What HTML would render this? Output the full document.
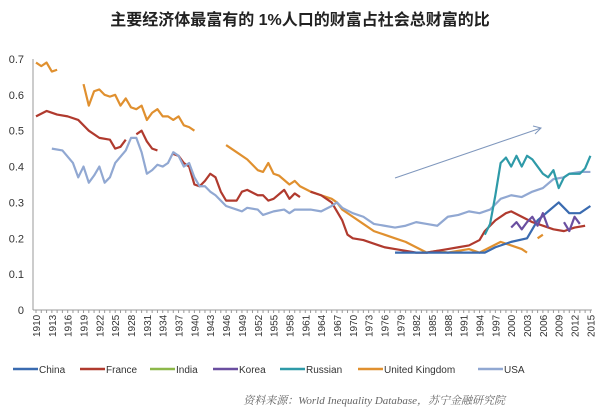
<!DOCTYPE html><html><head><meta charset="utf-8"><style>
body{margin:0;background:#fff;width:600px;height:415px;overflow:hidden;font-family:"Liberation Sans","Noto Sans CJK SC",sans-serif}
</style></head><body>
<svg id="s" width="600" height="415" xmlns="http://www.w3.org/2000/svg" font-family="Liberation Sans, Noto Sans CJK SC, sans-serif">
<text x="300" y="25" text-anchor="middle" font-size="16" font-weight="bold" fill="#222">主要经济体最富有的 1%人口的财富占社会总财富的比</text>
<g id="ax"></g><g id="ln" fill="none" stroke-width="2.2" stroke-linejoin="round"></g>
<line x1="395" y1="178" x2="541" y2="128" stroke="#7f97bd" stroke-width="1"/>
<path d="M533 126 L541 128 L535 134" stroke="#7f97bd" fill="none"/>
<g font-size="10" fill="#333" id="lg"></g>
<text x="505" y="404" text-anchor="end" font-size="11" font-style="italic" fill="#666" font-family="Liberation Serif, Noto Serif CJK SC, serif">资料来源：World Inequality Database，苏宁金融研究院</text>
</svg>
<script>
const X=y=>36+(y-1910)*5.28, Y=v=>310-v*358.6;
let ax='<line x1="33" y1="59" x2="33" y2="310" stroke="#999"/><line x1="33" y1="310" x2="592" y2="310" stroke="#999"/>';
for(let i=0;i<=7;i++){ax+=`<text x="24" y="${Y(i/10)+4}" text-anchor="end" font-size="11" fill="#333">${i?(i/10).toFixed(1):0}</text>`}
for(let y=1910;y<=2015;y++){ax+=`<line x1="${X(y)}" y1="310" x2="${X(y)}" y2="313" stroke="#999"/>`;
if((y-1910)%3==0)ax+=`<text transform="translate(${X(y)+4},337) rotate(-90)" font-size="10" fill="#333">${y}</text>`}
document.getElementById('ax').innerHTML=ax;
const S={
'#E0902F':[[[1910,.69],[1911,.68],[1912,.69],[1913,.665],[1914,.67]],[[1919,.63],[1920,.57],[1921,.61],[1922,.615],[1923,.6],[1924,.595],[1925,.6],[1926,.57],[1927,.59],[1928,.565],[1929,.56],[1930,.57],[1931,.53],[1932,.55],[1933,.56],[1934,.54],[1935,.54],[1936,.53],[1937,.54],[1938,.515],[1939,.51],[1940,.5]],[[1946,.46],[1948,.44],[1950,.42],[1952,.39],[1953,.385],[1954,.41],[1955,.38],[1956,.375],[1958,.35],[1959,.36],[1960,.345],[1962,.33],[1964,.32],[1966,.31],[1967,.3],[1968,.28],[1970,.26],[1972,.24],[1974,.22],[1976,.21],[1978,.2],[1980,.19],[1982,.175],[1984,.16],[1986,.165],[1988,.16],[1990,.165],[1992,.17],[1994,.16],[1996,.175],[1998,.19],[2000,.18],[2002,.17],[2003,.16]],[[2005,.2],[2006,.21]]],
'#B03A2E':[[[1910,.54],[1912,.555],[1914,.545],[1916,.54],[1918,.53],[1920,.5],[1922,.48],[1924,.475],[1925,.45],[1926,.455],[1927,.475]],[[1929,.49],[1930,.5],[1931,.47],[1932,.45],[1933,.445]],[[1936,.435],[1937,.43],[1938,.41],[1939,.4],[1940,.35],[1941,.345],[1942,.36],[1943,.38],[1944,.37],[1945,.33],[1946,.305],[1948,.305],[1949,.33],[1950,.335],[1952,.32],[1953,.32],[1954,.305],[1955,.31],[1957,.335],[1958,.31],[1959,.325],[1960,.315]],[[1962,.33],[1964,.32],[1966,.3],[1968,.25],[1969,.21],[1970,.2],[1972,.195],[1974,.185],[1976,.175],[1978,.17],[1980,.165],[1982,.16],[1984,.16],[1986,.165],[1988,.17],[1990,.175],[1992,.18],[1994,.195],[1995,.22],[1997,.25],[1999,.27],[2000,.275],[2002,.26],[2004,.245],[2006,.235],[2008,.225],[2010,.22],[2012,.23],[2014,.235]]],
'#91A8D2':[[[1913,.45],[1915,.445],[1917,.41],[1918,.37],[1919,.4],[1920,.355],[1921,.375],[1922,.4],[1923,.355],[1924,.37],[1925,.41],[1927,.445],[1928,.48],[1929,.48],[1930,.44],[1931,.38],[1932,.39],[1933,.405],[1934,.4],[1935,.41],[1936,.44],[1937,.43],[1938,.4],[1939,.41],[1940,.37],[1941,.345],[1942,.345],[1943,.33],[1944,.32],[1945,.305],[1946,.29],[1948,.28],[1949,.275],[1950,.285],[1952,.28],[1953,.265],[1955,.275],[1957,.28],[1958,.27],[1959,.28],[1962,.28],[1964,.275],[1966,.29],[1967,.3],[1968,.285],[1970,.27],[1972,.26],[1974,.24],[1976,.235],[1978,.23],[1980,.235],[1982,.245],[1984,.24],[1986,.235],[1988,.26],[1990,.265],[1992,.275],[1994,.27],[1996,.28],[1998,.31],[2000,.32],[2002,.315],[2004,.33],[2006,.34],[2008,.365],[2010,.37],[2011,.38],[2013,.385],[2015,.385]]],
'#3A6BB0':[[[1978,.16],[1995,.16],[1997,.175],[2000,.19],[2003,.2],[2005,.25],[2007,.275],[2009,.3],[2011,.27],[2013,.27],[2015,.29]]],
'#6A4FA0':[[[2000,.23],[2001,.245],[2002,.225],[2003,.245],[2004,.26],[2005,.235],[2006,.27],[2007,.23]],[[2010,.245],[2011,.22],[2012,.26],[2013,.24]]],
'#2E9AA8':[[[1995,.21],[1996,.24],[1997,.32],[1998,.41],[1999,.425],[2000,.4],[2001,.43],[2002,.4],[2003,.43],[2004,.42],[2005,.4],[2006,.38],[2007,.37],[2008,.39],[2009,.34],[2010,.37],[2011,.38],[2012,.38],[2013,.38],[2014,.395],[2015,.43]]]};
let h='';for(const c in S)for(const seg of S[c])h+=`<polyline stroke="${c}" points="${seg.map(p=>X(p[0])+','+Y(p[1])).join(' ')}"/>`;
document.getElementById('ln').innerHTML=h;
const L=[['China','#3A6BB0',13],['France','#B03A2E',80],['India','#8DB84A',150],['Korea','#6A4FA0',213],['Russian','#2E9AA8',280],['United Kingdom','#E0902F',358],['USA','#91A8D2',478]];
let g='';for(const [n,c,x] of L)g+=`<line x1="${x}" y1="369" x2="${x+25}" y2="369" stroke="${c}" stroke-width="2.5"/><text x="${x+26}" y="373">${n}</text>`;
document.getElementById('lg').innerHTML=g;
</script></body></html>
